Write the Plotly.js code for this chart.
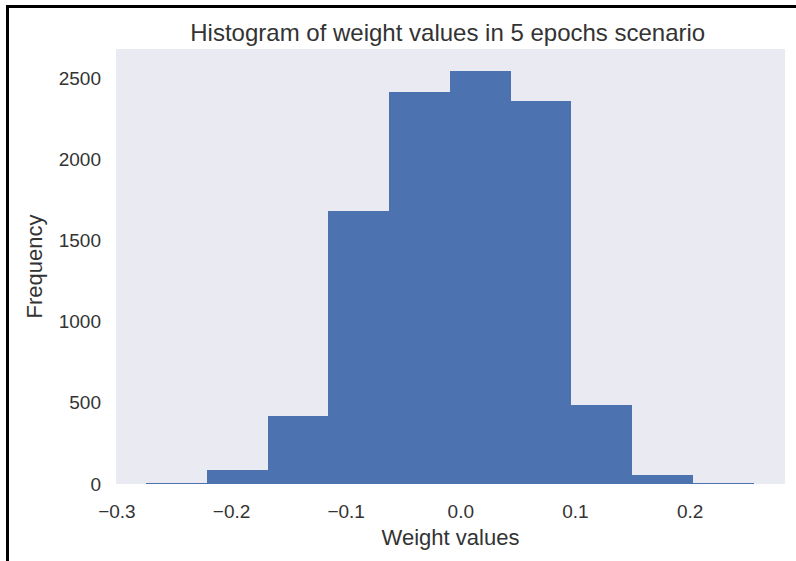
<!DOCTYPE html>
<html>
<head>
<meta charset="utf-8">
<script src="https://cdn.plot.ly/plotly-3.0.1.min.js"></script>
<style>
  html, body { margin: 0; padding: 0; background: #ffffff; }
  #wrap { position: relative; width: 796px; height: 561px; overflow: hidden; }
  #chart { position: absolute; left: 0; top: 0; width: 796px; height: 561px; }
  #frame { position: absolute; left: 6px; top: 5px; width: 800px; height: 600px;
           border-left: 3px solid #000; border-top: 3px solid #000; pointer-events: none; }
</style>
</head>
<body>
<div id="wrap">
  <div id="chart"></div>
  <div id="frame"></div>
</div>
<script>
// Histogram bin edges
const binEdges = [-0.2745, -0.2215, -0.1685, -0.1155, -0.0625, -0.0095, 0.0435, 0.0965, 0.1495, 0.2025, 0.2555];
// Counts per bin
const counts = [8, 89, 421, 1678, 2416, 2545, 2360, 485, 54, 6];
// Axis ticks
const xTicks = [-0.3, -0.2, -0.1, 0.0, 0.1, 0.2];
const yTicks = [0, 500, 1000, 1500, 2000, 2500];

const centers = counts.map((_, i) => (binEdges[i] + binEdges[i + 1]) / 2);
const widths = counts.map((_, i) => binEdges[i + 1] - binEdges[i]);

const font = 'Liberation Sans, Arial, sans-serif';
const textColor = '#333333';

const trace = {
  type: 'bar',
  x: centers,
  y: counts,
  width: widths,
  marker: { color: '#4C72B0', line: { width: 0 } },
  hoverinfo: 'x+y'
};

const layout = {
  width: 796,
  height: 561,
  margin: { l: 116, r: 11, t: 49, b: 77 },
  paper_bgcolor: '#ffffff',
  plot_bgcolor: '#EAEAF2',
  bargap: 0,
  showlegend: false,
  font: { family: font, color: textColor, size: 19 },
  title: {
    text: 'Histogram of weight values in 5 epochs scenario',
    font: { family: font, size: 24, color: textColor },
    x: 0.5625, xref: 'container', xanchor: 'center',
    y: 1 - 33 / 561, yref: 'container', yanchor: 'middle'
  },
  xaxis: {
    range: [-0.3008, 0.2828],
    tickvals: xTicks,
    tickformat: '.1f',
    showgrid: false,
    zeroline: false,
    showline: false,
    ticks: '',
    ticklabelstandoff: 14,
    tickfont: { family: font, size: 19, color: textColor },
    title: { text: 'Weight values', font: { family: font, size: 22, color: textColor }, standoff: 8 }
  },
  yaxis: {
    range: [0, 2678],
    tickvals: yTicks,
    showgrid: false,
    zeroline: false,
    showline: false,
    ticks: '',
    ticklabelstandoff: 14,
    tickfont: { family: font, size: 19, color: textColor },
    title: { text: 'Frequency', font: { family: font, size: 22, color: textColor }, standoff: 10 }
  }
};

Plotly.newPlot('chart', [trace], layout, { displayModeBar: false, staticPlot: true });
</script>
</body>
</html>
